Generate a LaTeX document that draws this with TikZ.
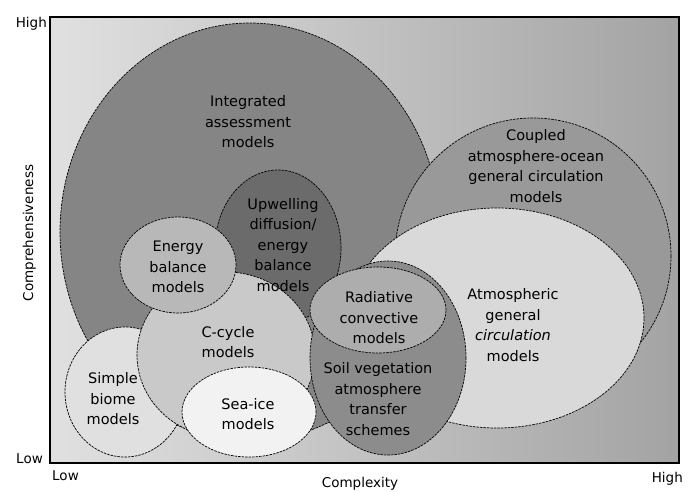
\documentclass[tikz,border=0pt]{standalone}
\usepackage{fontspec}
\setmainfont{DejaVu Sans}
\begin{document}
\begin{tikzpicture}[x=1pt,y=-1pt,
  outl/.style={draw=black, line width=0.7pt, dash pattern=on 2.5pt off 1pt},
  lbl/.style={align=center, inner sep=0pt, font=\fontsize{14.5}{20.5}\selectfont},
  axl/.style={inner sep=0pt, font=\fontsize{13.5}{16}\selectfont}]
\useasboundingbox (0,0) rectangle (696,491);
% background of the plot area
\shade[left color=black!12, right color=black!36] (50,17) rectangle (679,463);
% model domains, back to front
\filldraw[fill=black!48, outl] (250,232) ellipse [x radius=190pt, y radius=209pt];
\filldraw[fill=black!40, outl] (533,256) ellipse [x radius=138pt, y radius=138pt];
\filldraw[fill=black!15, outl] (497,318) ellipse [x radius=147pt, y radius=110pt];
\filldraw[fill=black!58, outl] (278,248) ellipse [x radius=63pt, y radius=78pt];
\filldraw[fill=black!12, outl] (125,392) ellipse [x radius=60pt, y radius=65pt];
\filldraw[fill=black!21, outl] (226,355) ellipse [x radius=89pt, y radius=83pt];
\filldraw[fill=black!28, outl] (178,265) ellipse [x radius=58pt, y radius=48pt];
\filldraw[fill=black!45, outl] (388,358) ellipse [x radius=78pt, y radius=97pt];
\filldraw[fill=black!5, outl] (249,412) ellipse [x radius=67pt, y radius=45pt];
\filldraw[fill=black!32, outl] (378,310) ellipse [x radius=68pt, y radius=43pt];
% frame
\draw[line width=1.2pt] (50,17) rectangle (679,463);
% labels inside domains
\node[lbl] (tintg) at (248,122) {Integrated\\assessment\\models};
\node[lbl] (tcoup) at (536,166) {Coupled\\atmosphere-ocean\\general circulation\\models};
\node[lbl] (tupw) at (283,245) {Upwelling\\diffusion/\\energy\\balance\\models};
\node[lbl] (tebm) at (178,267) {Energy\\balance\\models};
\node[lbl] (tcc) at (228,342) {C-cycle\\models};
\node[lbl] (tsb) at (113,399) {Simple\\biome\\models};
\node[lbl] (tsi) at (248,414) {Sea-ice\\models};
\node[lbl] (trc) at (379,318) {Radiative\\convective\\models};
\node[lbl] (tsv) at (378,399) {Soil vegetation\\atmosphere\\transfer\\schemes};
\node[lbl] (tag) at (513,325) {Atmospheric\\general\\\textit{circulation}\\models};
% axis labels
\node[axl, anchor=base east] (yhi) at (47,27) {High};
\node[axl, anchor=base east] (ylo) at (43,463) {Low};
\node[axl, anchor=base west] (xlo) at (52,480) {Low};
\node[axl, anchor=base] (xlab) at (360,487) {Complexity};
\node[axl, anchor=base east] (xhi) at (683,482) {High};
\node[axl, rotate=90, anchor=base] (ylab) at (33,233) {Comprehensiveness};
\end{tikzpicture}
\end{document}
